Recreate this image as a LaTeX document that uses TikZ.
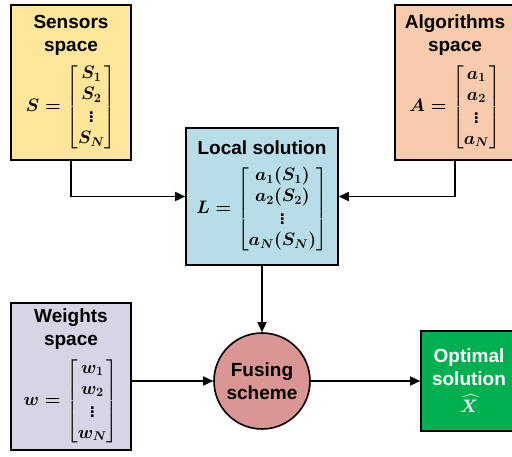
\RequirePackage{fix-cm}
\documentclass[tikz,border=0pt]{standalone}
\usepackage{amsmath}
\usepackage{fontspec}
\setmainfont{Liberation Sans}
\usetikzlibrary{arrows.meta,positioning}
\definecolor{sensfill}{HTML}{FFE699}
\definecolor{algofill}{HTML}{F8CBAD}
\definecolor{locfill}{HTML}{B7DEE8}
\definecolor{wtsfill}{HTML}{D9D3E6}
\definecolor{fusefill}{HTML}{D99694}
\definecolor{optfill}{HTML}{00B050}
\tikzset{>={Triangle[length=10pt,width=9pt]},
  spacebox/.style={draw,line width=1.6pt,align=center,inner sep=0pt,
    font=\fontsize{19}{23}\bfseries\boldmath\selectfont},
  link/.style={->,line width=1.6pt}}
\newcommand{\mathsz}{\fontsize{18}{21}\selectfont}

\begin{document}
\begin{tikzpicture}[x=1pt,y=-1pt]
    \useasboundingbox (0,0) rectangle (512,457);

    \node (sens) [spacebox,fill=sensfill,minimum width=120pt,minimum height=155pt]
      at (71,82.5) {Sensors\\space\\[8pt]
      {\mathsz$S=\begin{bmatrix}S_1\\S_2\\\vdots\\S_N\end{bmatrix}$}};
    \node (algo) [spacebox,fill=algofill,minimum width=120pt,minimum height=155pt]
      at (455,82.5) {Algorithms\\space\\[8pt]
      {\mathsz$A=\begin{bmatrix}a_1\\a_2\\\vdots\\a_N\end{bmatrix}$}};
    \node (loc) [spacebox,fill=locfill,minimum width=152pt,minimum height=137pt]
      at (262,196.5) {Local solution\\[10pt]
      {\mathsz$L=\begin{bmatrix}a_1(S_1)\\a_2(S_2)\\\vdots\\a_N(S_N)\end{bmatrix}$}};
    \node (wts) [spacebox,fill=wtsfill,minimum width=120pt,minimum height=147pt]
      at (71,376.5) {Weights\\space\\[8pt]
      {\mathsz$w=\begin{bmatrix}w_1\\w_2\\\vdots\\w_N\end{bmatrix}$}};
    \node (fuse) [spacebox,circle,fill=fusefill,minimum size=96pt]
      at (262,381) {Fusing\\scheme};
    \node (opt) [spacebox,fill=optfill,text=white,minimum width=96pt,minimum height=100pt]
      at (469,381) {Optimal\\solution\\[4pt]{\mathsz$\widehat{X}$}};

    \draw[link] (sens.south) |- (loc.west);
    \draw[link] (algo.south) |- (loc.east);
    \draw[link] (loc.south) -- (fuse.north);
    \draw[link] (wts.east |- fuse.west) -- (fuse.west);
    \draw[link] (fuse.east) -- (opt.west);
  \end{tikzpicture}
\end{document}
